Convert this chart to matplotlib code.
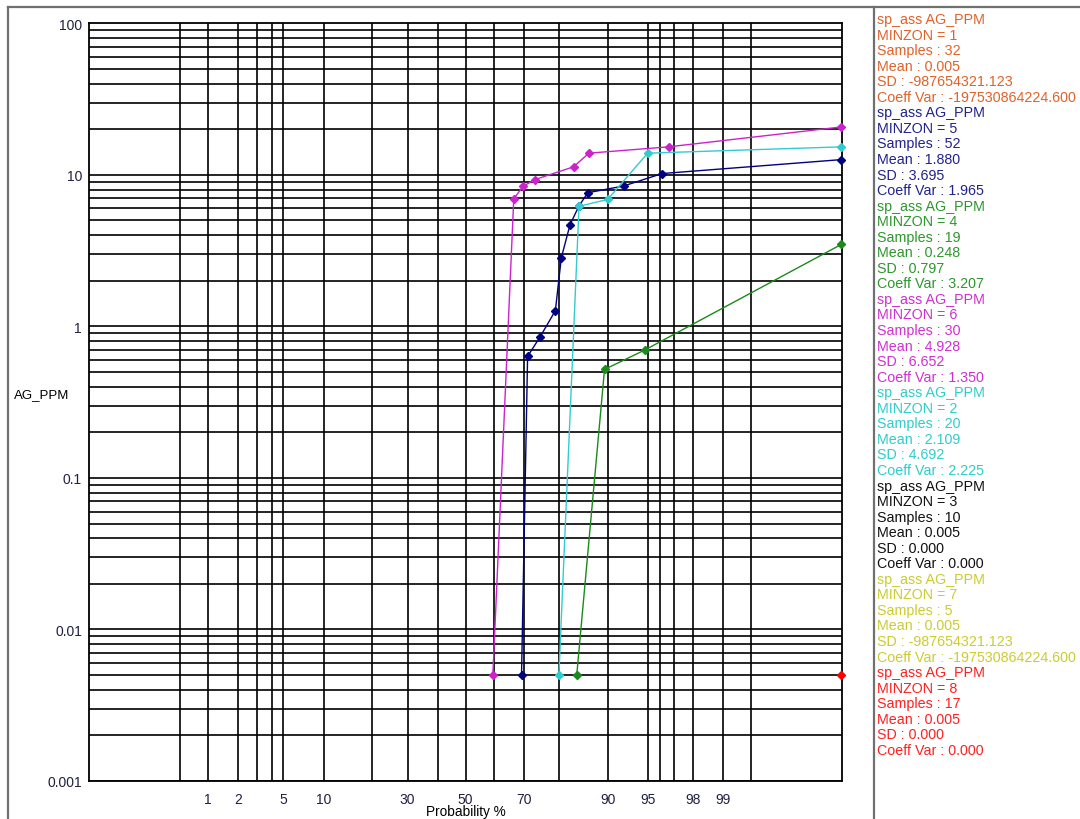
import numpy as np
import matplotlib.pyplot as plt
from matplotlib.lines import Line2D
from statistics import NormalDist

plt.rcParams['font.family'] = ['Liberation Sans', 'DejaVu Sans']

# probability plot data (cumulative %, AG_PPM) per MINZON
prob_z6 = [59.7, 66.8, 69.8, 73.4, 83.5, 86.7, 96.65, 99.965]
ag_z6 = [0.005, 6.95, 8.4, 9.3, 11.3, 13.9, 15.3, 20.7]

prob_z5 = [69.3, 71.2, 74.95, 79.1, 80.6, 82.7, 84.7, 86.5, 92.3, 96.2, 99.965]
ag_z5 = [0.005, 0.634, 0.855, 1.27, 2.83, 4.69, 6.25, 7.62, 8.44, 10.2, 12.6]

prob_z2 = [80.0, 84.7, 90.0, 94.98, 99.965]
ag_z2 = [0.005, 6.2, 6.88, 13.9, 15.3]

prob_z4 = [84.2, 89.5, 94.7, 99.965]
ag_z4 = [0.005, 0.52, 0.698, 3.47]

prob_z8 = [99.965]
ag_z8 = [0.005]

# statistics panel
zones = [1, 5, 4, 6, 2, 3, 7, 8]
samples = [32, 52, 19, 30, 20, 10, 5, 17]
means = ['0.005', '1.880', '0.248', '4.928', '2.109', '0.005', '0.005', '0.005']
sds = ['-987654321.123', '3.695', '0.797', '6.652', '4.692', '0.000', '-987654321.123', '0.000']
cvs = ['-197530864224.600', '1.965', '3.207', '1.350', '2.225', '0.000', '-197530864224.600', '0.000']
text_colors = ['#E0622A', '#22228C', '#2E962E', '#D030D0', '#30CCCC', '#111111', '#CCCC30', '#FF2020']

x_ticks = [1, 2, 5, 10, 30, 50, 70, 90, 95, 98, 99]
x_grid = [0.5, 1, 2, 3, 4, 5, 10, 20, 30, 40, 50, 60, 70, 80, 90, 95, 96, 97, 98, 99, 99.5]
y_ticks = [0.001, 0.01, 0.1, 1, 10, 100]
y_labels = ['0.001', '0.01', '0.1', '1', '10', '100']

nd = NormalDist()


def to_z(p):
    p = np.clip(np.asarray(p, dtype=float), 1e-6, 100 - 1e-6)
    return np.vectorize(lambda v: nd.inv_cdf(v / 100.0), otypes=[float])(p)


def from_z(z):
    z = np.asarray(z, dtype=float)
    return np.vectorize(lambda v: nd.cdf(v) * 100.0, otypes=[float])(z)


fig = plt.figure(figsize=(10.8, 8.2), dpi=100)
W, H = 1080, 820
ax = fig.add_axes([89 / W, 1 - 782 / H, (842.3 - 89) / W, (782 - 24.3) / H])

ax.set_xscale('function', functions=(to_z, from_z))
ax.set_yscale('log')
ax.set_xlim(from_z(-3.4), from_z(3.4))
ax.set_ylim(0.001, 100)

# grid
for p in x_grid:
    ax.axvline(p, color='black', lw=1.2, zorder=1)
for dec in [0.001, 0.01, 0.1, 1, 10]:
    for m in range(1, 10):
        ax.axhline(dec * m, color='black', lw=1.2, zorder=1)

for s in ax.spines.values():
    s.set_linewidth(1.3)

ax.set_xticks(x_ticks)
ax.set_xticklabels([str(t) for t in x_ticks])
ax.set_xticks([], minor=True)
ax.set_yticks(y_ticks)
ax.set_yticklabels(y_labels)
ax.set_yticks([], minor=True)
ax.tick_params(length=0, labelsize=10, colors='#202040')
ax.tick_params(axis='x', pad=8)
ax.tick_params(axis='y', pad=5)

series = [
    (prob_z6, ag_z6, '#CC22CC'),
    (prob_z5, ag_z5, '#000080'),
    (prob_z2, ag_z2, '#33CCCC'),
    (prob_z4, ag_z4, '#1A8A1A'),
    (prob_z8, ag_z8, '#FF0000'),
]
for px, py, c in series:
    ax.plot(px, py, color=c, lw=1.0, marker='D', ms=4.5, zorder=3, clip_on=False)

fig.text(465.6 / W, 1 - 812 / H, 'Probability %', ha='center', va='center', fontsize=9.8)
fig.text(14 / W, 1 - 395 / H, 'AG_PPM', ha='left', va='center', fontsize=9.5)

# frame around the chart and stats panel
frame = '#707070'
fig.add_artist(Line2D([7.5 / W, 7.5 / W], [0, 1 - 7.5 / H], color=frame, lw=1.6))
fig.add_artist(Line2D([7.5 / W, 1], [1 - 7.5 / H, 1 - 7.5 / H], color=frame, lw=1.6))
fig.add_artist(Line2D([873.5 / W, 873.5 / W], [0, 1 - 7.5 / H], color=frame, lw=1.6))

y = 20
for i in range(len(zones)):
    lines = ['sp_ass AG_PPM',
             'MINZON = %d' % zones[i],
             'Samples : %d' % samples[i],
             'Mean : ' + means[i],
             'SD : ' + sds[i],
             'Coeff Var : ' + cvs[i]]
    for t in lines:
        fig.text(877 / W, 1 - y / H, t, ha='left', va='center', fontsize=10.3,
                 color=text_colors[i])
        y += 15.55

fig.savefig('out.png', dpi=100)
